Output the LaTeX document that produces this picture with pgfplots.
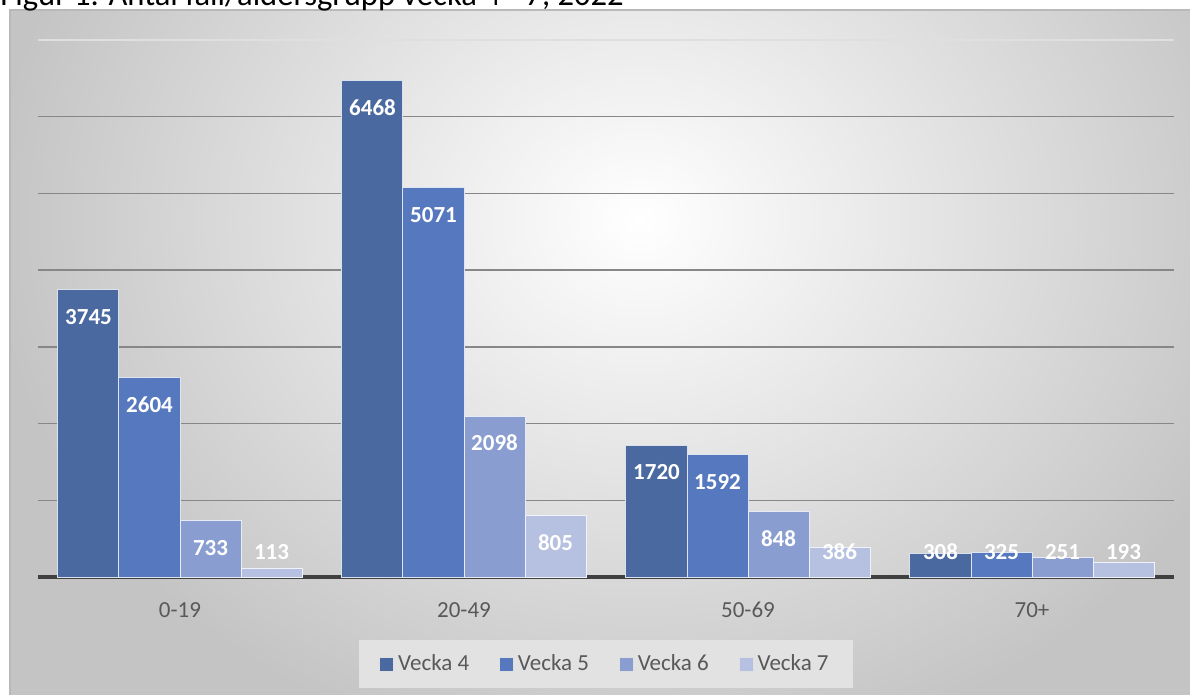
\documentclass[border=0pt]{standalone}
\usepackage{pgfplots}
\pgfplotsset{compat=1.18}
\usepackage{fontspec}
\setmainfont{Carlito}
\definecolor{vA}{RGB}{74,105,160}
\definecolor{vB}{RGB}{86,120,190}
\definecolor{vC}{RGB}{137,157,209}
\definecolor{vD}{RGB}{182,193,225}
\definecolor{gridc}{RGB}{135,135,135}
\definecolor{axc}{RGB}{64,64,64}
\definecolor{txt}{RGB}{89,89,89}
\definecolor{bgout}{RGB}{196,196,196}
\definecolor{legfill}{RGB}{226,226,226}
\begin{document}
\begin{tikzpicture}
\begin{scope}[x=0.5pt,y=-0.5pt]
  \begin{scope}
    \clip (10,10) rectangle (1190,695);
    \shade[inner color=white, outer color=bgout] (-10,-330) rectangle (1290,770);
  \end{scope}
  \draw[gray!55, line width=0.6pt] (10,695) -- (10,10) -- (1190,10);
  \node[anchor=base west, inner sep=0pt, font=\fontsize{16.3}{18}\selectfont] at (0,6) {Figur 1. Antal fall/åldersgrupp vecka 4 - 7, 2022};
\end{scope}
\begin{axis}[
  at={(19pt,-288.5pt)}, anchor=south west,
  scale only axis, width=568pt, height=268.5pt,
  ybar, bar width=0.2148,
  ymin=0, ymax=7000, xmin=-0.5, xmax=3.5,
  xtick={0,1,2,3}, xticklabels={0-19,20-49,50-69,70+},
  ytick={1000,2000,3000,4000,5000,6000}, yticklabels={},
  extra y ticks={7000}, extra y tick labels={},
  extra y tick style={grid style={gray!25, line width=0.7pt}},
  ymajorgrids, grid style={gridc, line width=0.75pt},
  axis x line*=bottom, axis y line*=left,
  y axis line style={draw=none},
  x axis line style={line width=2.2pt, axc},
  major tick length=0pt,
  xticklabel style={anchor=center, yshift=-16.5pt, text=txt, font=\fontsize{11.5}{13}\selectfont},
  nodes near coords={\pgfmathprintnumber[1000 sep={},assume math mode=true]{\pgfplotspointmeta}},
  visualization depends on={rawy \as \rawy},
  every node near coord/.append style={anchor=center, text=white, font=\bfseries\fontsize{11.5}{13}\selectfont,
    yshift={-min(13.5,(\rawy-326)*0.038357)*1pt}},
  legend columns=4,
  legend style={at={(0.5,0)}, anchor=center, yshift=-43.5pt, draw=none, fill=legfill,
    font=\fontsize{11.5}{13}\selectfont, text=txt, inner xsep=10pt, inner ysep=5.5pt,
    /tikz/every even column/.append style={column sep=13pt}},
  legend image code/.code={\draw[#1,/tikz/.cd,draw=white!75!gray, line width=0.4pt] (0pt,-3.5pt) rectangle (7pt,3.5pt);},
  legend cell align=left,
]
\addplot[fill=vA, draw=white!80!vA, line width=0.5pt, bar shift=-0.3222] coordinates {(0,3745) (1,6468) (2,1720) (3,308)};
\addplot[fill=vB, draw=white!80!vB, line width=0.5pt, bar shift=-0.1074] coordinates {(0,2604) (1,5071) (2,1592) (3,325)};
\addplot[fill=vC, draw=white!80!vC, line width=0.5pt, bar shift=0.1074] coordinates {(0,733) (1,2098) (2,848) (3,251)};
\addplot[fill=vD, draw=white!80!vD, line width=0.5pt, bar shift=0.3222] coordinates {(0,113) (1,805) (2,386) (3,193)};
\legend{Vecka 4, Vecka 5, Vecka 6, Vecka 7}
\end{axis}
\pgfresetboundingbox
\path[use as bounding box] (0,0) rectangle (595pt,-347.5pt);
\end{tikzpicture}
\end{document}
